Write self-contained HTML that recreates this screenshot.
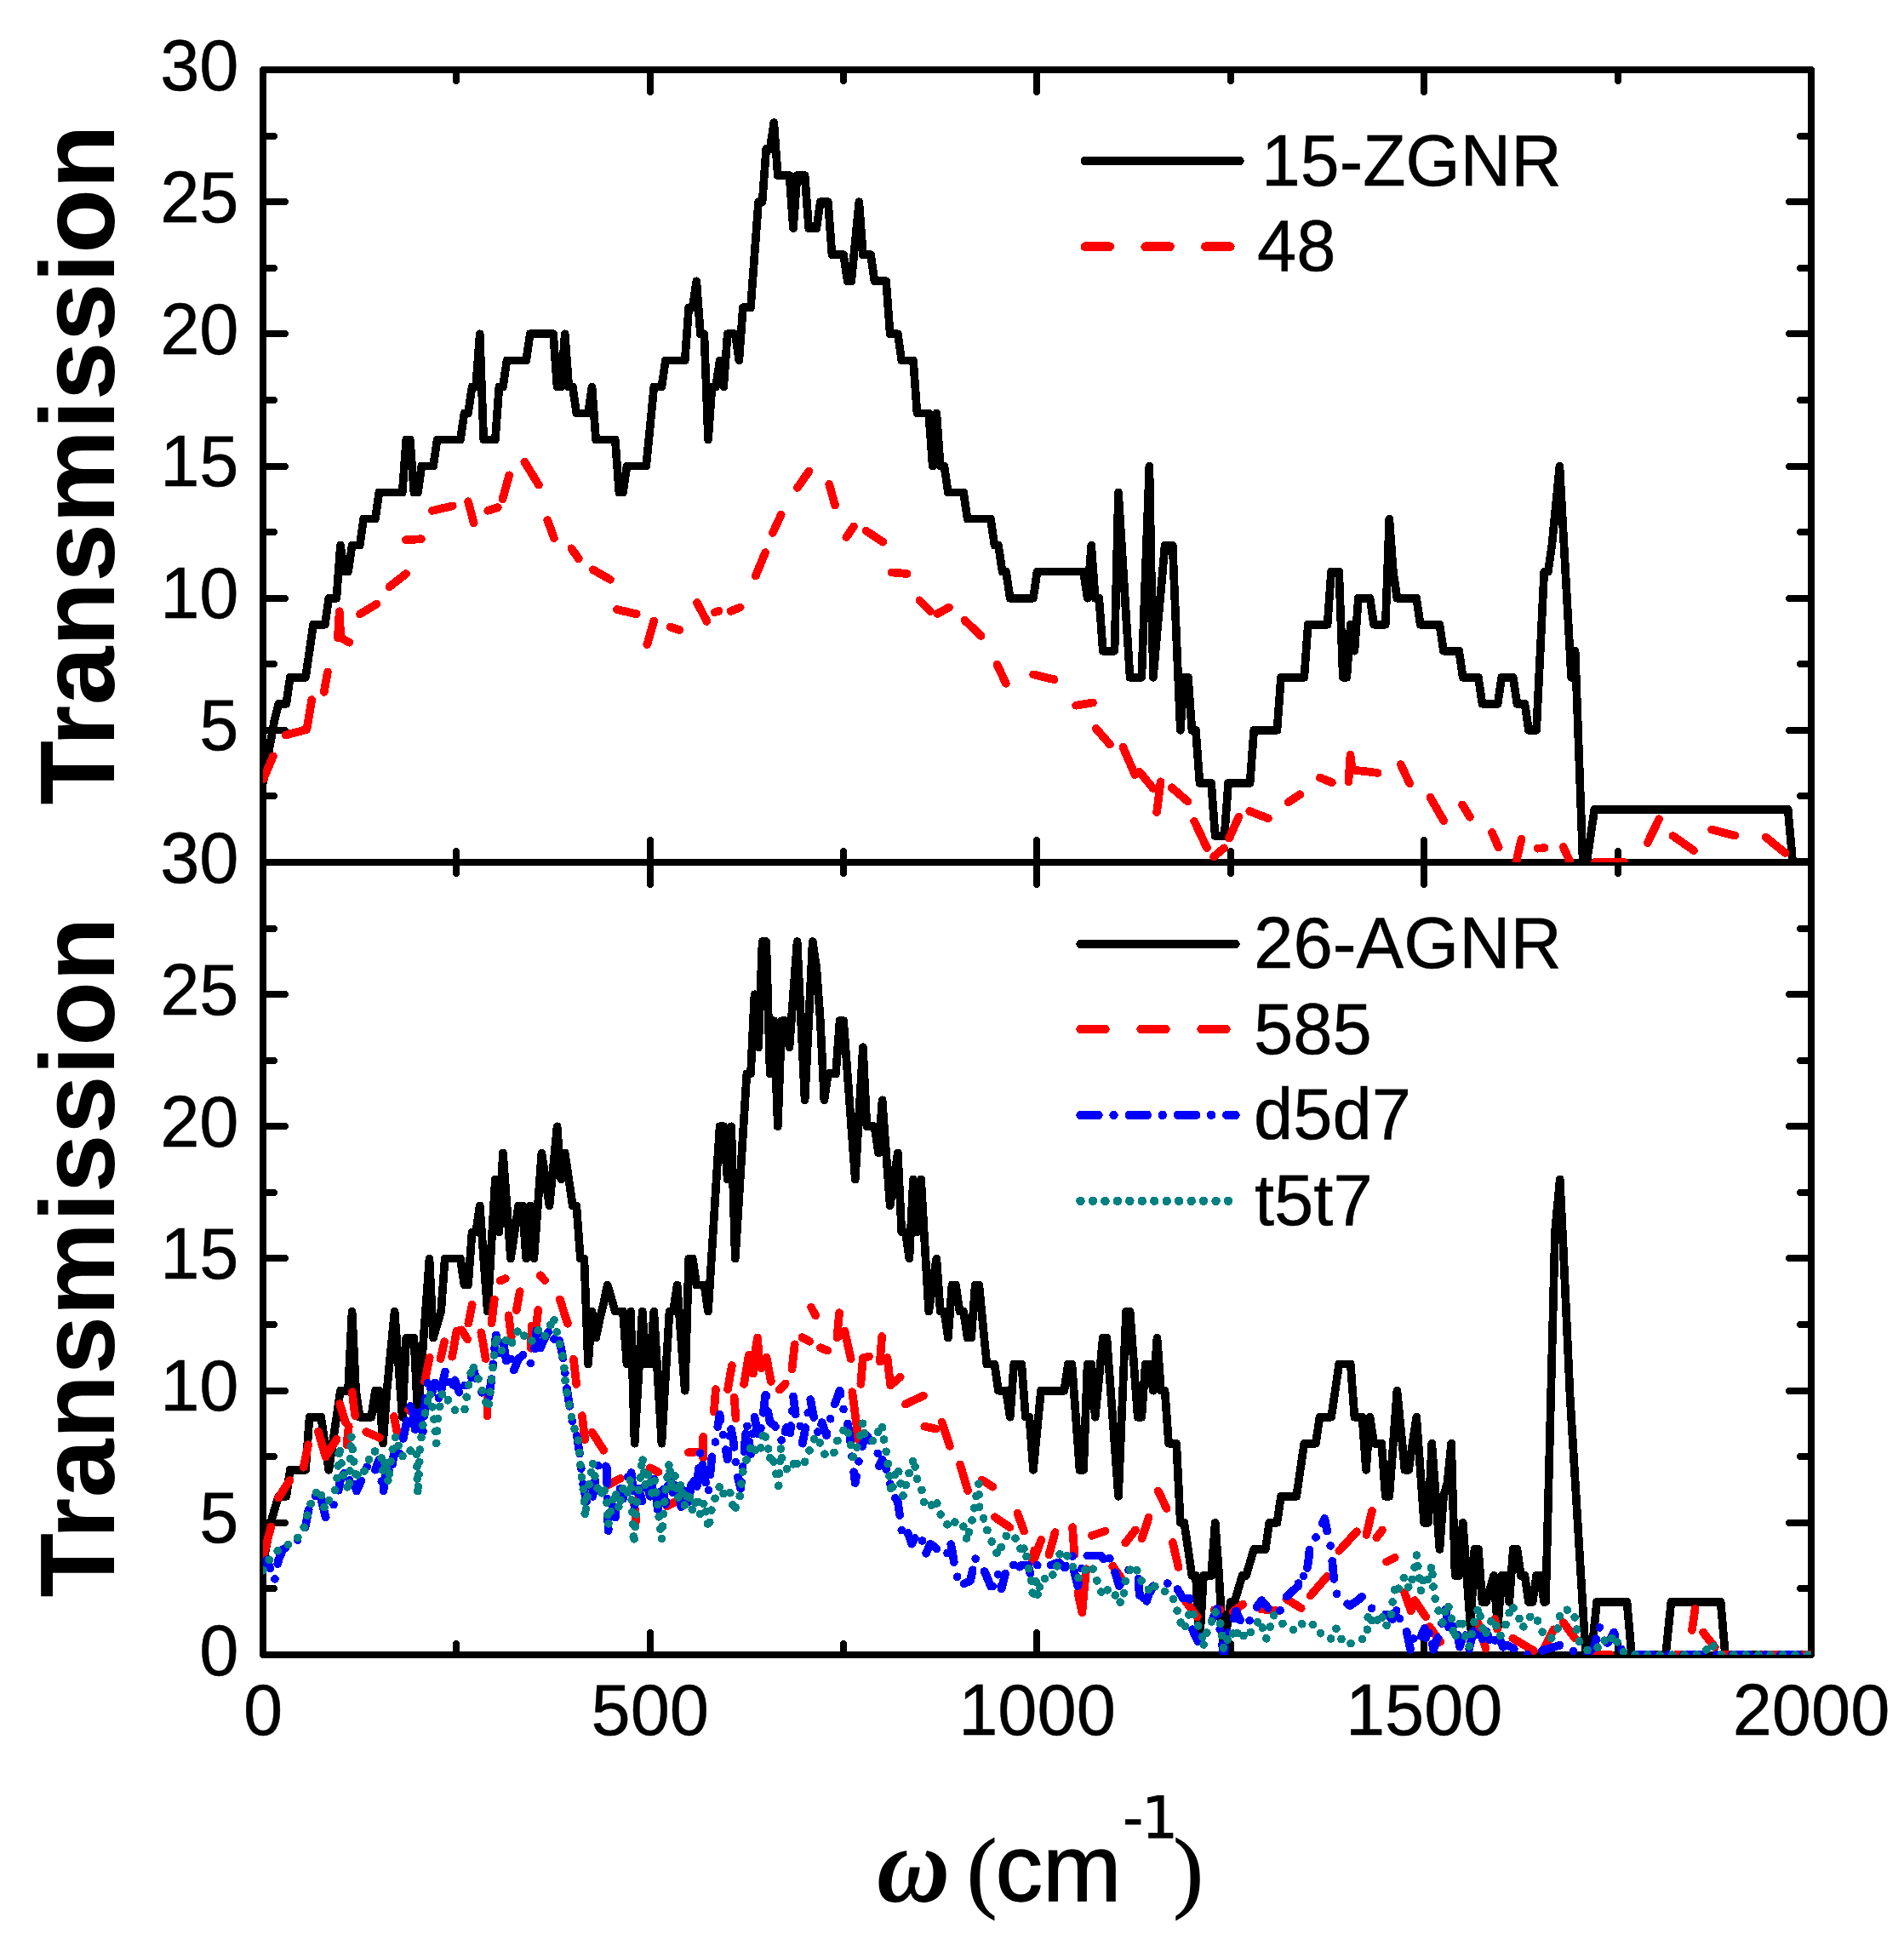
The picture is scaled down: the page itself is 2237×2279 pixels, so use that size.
<!DOCTYPE html>
<html><head><meta charset="utf-8"><title>Transmission</title>
<style>html,body{margin:0;padding:0;background:#fff}svg{display:block}text{font-family:"Liberation Sans",Arial,sans-serif;fill:#000}.tk{font-size:86px;stroke:#000;stroke-width:.5px}.lg{font-size:85px;stroke:#000;stroke-width:.5px}.yl{font-size:124px;font-weight:bold}</style></head><body>
<svg shape-rendering="crispEdges" width="2237" height="2279" viewBox="0 0 2237 2279">
<rect width="2237" height="2279" fill="#fff"/>
<defs><clipPath id="ct"><rect x="309.0" y="82.0" width="1819.0" height="931.0"/></clipPath><clipPath id="cb"><rect x="309.0" y="1013.0" width="1819.0" height="931.0"/></clipPath></defs>
<g id="axes">
<line x1="309.0" y1="935.0" x2="322.0" y2="935.0" stroke="#000" stroke-width="8.0" stroke-linecap="round"/>
<line x1="2128.0" y1="935.0" x2="2115.0" y2="935.0" stroke="#000" stroke-width="8.0" stroke-linecap="round"/>
<line x1="309.0" y1="858.0" x2="335.0" y2="858.0" stroke="#000" stroke-width="8.0" stroke-linecap="round"/>
<line x1="2128.0" y1="858.0" x2="2102.0" y2="858.0" stroke="#000" stroke-width="8.0" stroke-linecap="round"/>
<line x1="309.0" y1="780.0" x2="322.0" y2="780.0" stroke="#000" stroke-width="8.0" stroke-linecap="round"/>
<line x1="2128.0" y1="780.0" x2="2115.0" y2="780.0" stroke="#000" stroke-width="8.0" stroke-linecap="round"/>
<line x1="309.0" y1="703.0" x2="335.0" y2="703.0" stroke="#000" stroke-width="8.0" stroke-linecap="round"/>
<line x1="2128.0" y1="703.0" x2="2102.0" y2="703.0" stroke="#000" stroke-width="8.0" stroke-linecap="round"/>
<line x1="309.0" y1="625.0" x2="322.0" y2="625.0" stroke="#000" stroke-width="8.0" stroke-linecap="round"/>
<line x1="2128.0" y1="625.0" x2="2115.0" y2="625.0" stroke="#000" stroke-width="8.0" stroke-linecap="round"/>
<line x1="309.0" y1="548.0" x2="335.0" y2="548.0" stroke="#000" stroke-width="8.0" stroke-linecap="round"/>
<line x1="2128.0" y1="548.0" x2="2102.0" y2="548.0" stroke="#000" stroke-width="8.0" stroke-linecap="round"/>
<line x1="309.0" y1="470.0" x2="322.0" y2="470.0" stroke="#000" stroke-width="8.0" stroke-linecap="round"/>
<line x1="2128.0" y1="470.0" x2="2115.0" y2="470.0" stroke="#000" stroke-width="8.0" stroke-linecap="round"/>
<line x1="309.0" y1="392.0" x2="335.0" y2="392.0" stroke="#000" stroke-width="8.0" stroke-linecap="round"/>
<line x1="2128.0" y1="392.0" x2="2102.0" y2="392.0" stroke="#000" stroke-width="8.0" stroke-linecap="round"/>
<line x1="309.0" y1="315.0" x2="322.0" y2="315.0" stroke="#000" stroke-width="8.0" stroke-linecap="round"/>
<line x1="2128.0" y1="315.0" x2="2115.0" y2="315.0" stroke="#000" stroke-width="8.0" stroke-linecap="round"/>
<line x1="309.0" y1="237.0" x2="335.0" y2="237.0" stroke="#000" stroke-width="8.0" stroke-linecap="round"/>
<line x1="2128.0" y1="237.0" x2="2102.0" y2="237.0" stroke="#000" stroke-width="8.0" stroke-linecap="round"/>
<line x1="309.0" y1="160.0" x2="322.0" y2="160.0" stroke="#000" stroke-width="8.0" stroke-linecap="round"/>
<line x1="2128.0" y1="160.0" x2="2115.0" y2="160.0" stroke="#000" stroke-width="8.0" stroke-linecap="round"/>
<line x1="536.0" y1="82.0" x2="536.0" y2="95.0" stroke="#000" stroke-width="8.0" stroke-linecap="round"/>
<line x1="536.0" y1="1013.0" x2="536.0" y2="1000.0" stroke="#000" stroke-width="8.0" stroke-linecap="round"/>
<line x1="764.0" y1="82.0" x2="764.0" y2="108.0" stroke="#000" stroke-width="8.0" stroke-linecap="round"/>
<line x1="764.0" y1="1013.0" x2="764.0" y2="987.0" stroke="#000" stroke-width="8.0" stroke-linecap="round"/>
<line x1="991.0" y1="82.0" x2="991.0" y2="95.0" stroke="#000" stroke-width="8.0" stroke-linecap="round"/>
<line x1="991.0" y1="1013.0" x2="991.0" y2="1000.0" stroke="#000" stroke-width="8.0" stroke-linecap="round"/>
<line x1="1218.0" y1="82.0" x2="1218.0" y2="108.0" stroke="#000" stroke-width="8.0" stroke-linecap="round"/>
<line x1="1218.0" y1="1013.0" x2="1218.0" y2="987.0" stroke="#000" stroke-width="8.0" stroke-linecap="round"/>
<line x1="1446.0" y1="82.0" x2="1446.0" y2="95.0" stroke="#000" stroke-width="8.0" stroke-linecap="round"/>
<line x1="1446.0" y1="1013.0" x2="1446.0" y2="1000.0" stroke="#000" stroke-width="8.0" stroke-linecap="round"/>
<line x1="1673.0" y1="82.0" x2="1673.0" y2="108.0" stroke="#000" stroke-width="8.0" stroke-linecap="round"/>
<line x1="1673.0" y1="1013.0" x2="1673.0" y2="987.0" stroke="#000" stroke-width="8.0" stroke-linecap="round"/>
<line x1="1901.0" y1="82.0" x2="1901.0" y2="95.0" stroke="#000" stroke-width="8.0" stroke-linecap="round"/>
<line x1="1901.0" y1="1013.0" x2="1901.0" y2="1000.0" stroke="#000" stroke-width="8.0" stroke-linecap="round"/>
<line x1="309.0" y1="1866.0" x2="322.0" y2="1866.0" stroke="#000" stroke-width="8.0" stroke-linecap="round"/>
<line x1="2128.0" y1="1866.0" x2="2115.0" y2="1866.0" stroke="#000" stroke-width="8.0" stroke-linecap="round"/>
<line x1="309.0" y1="1789.0" x2="335.0" y2="1789.0" stroke="#000" stroke-width="8.0" stroke-linecap="round"/>
<line x1="2128.0" y1="1789.0" x2="2102.0" y2="1789.0" stroke="#000" stroke-width="8.0" stroke-linecap="round"/>
<line x1="309.0" y1="1711.0" x2="322.0" y2="1711.0" stroke="#000" stroke-width="8.0" stroke-linecap="round"/>
<line x1="2128.0" y1="1711.0" x2="2115.0" y2="1711.0" stroke="#000" stroke-width="8.0" stroke-linecap="round"/>
<line x1="309.0" y1="1634.0" x2="335.0" y2="1634.0" stroke="#000" stroke-width="8.0" stroke-linecap="round"/>
<line x1="2128.0" y1="1634.0" x2="2102.0" y2="1634.0" stroke="#000" stroke-width="8.0" stroke-linecap="round"/>
<line x1="309.0" y1="1556.0" x2="322.0" y2="1556.0" stroke="#000" stroke-width="8.0" stroke-linecap="round"/>
<line x1="2128.0" y1="1556.0" x2="2115.0" y2="1556.0" stroke="#000" stroke-width="8.0" stroke-linecap="round"/>
<line x1="309.0" y1="1478.0" x2="335.0" y2="1478.0" stroke="#000" stroke-width="8.0" stroke-linecap="round"/>
<line x1="2128.0" y1="1478.0" x2="2102.0" y2="1478.0" stroke="#000" stroke-width="8.0" stroke-linecap="round"/>
<line x1="309.0" y1="1401.0" x2="322.0" y2="1401.0" stroke="#000" stroke-width="8.0" stroke-linecap="round"/>
<line x1="2128.0" y1="1401.0" x2="2115.0" y2="1401.0" stroke="#000" stroke-width="8.0" stroke-linecap="round"/>
<line x1="309.0" y1="1323.0" x2="335.0" y2="1323.0" stroke="#000" stroke-width="8.0" stroke-linecap="round"/>
<line x1="2128.0" y1="1323.0" x2="2102.0" y2="1323.0" stroke="#000" stroke-width="8.0" stroke-linecap="round"/>
<line x1="309.0" y1="1246.0" x2="322.0" y2="1246.0" stroke="#000" stroke-width="8.0" stroke-linecap="round"/>
<line x1="2128.0" y1="1246.0" x2="2115.0" y2="1246.0" stroke="#000" stroke-width="8.0" stroke-linecap="round"/>
<line x1="309.0" y1="1168.0" x2="335.0" y2="1168.0" stroke="#000" stroke-width="8.0" stroke-linecap="round"/>
<line x1="2128.0" y1="1168.0" x2="2102.0" y2="1168.0" stroke="#000" stroke-width="8.0" stroke-linecap="round"/>
<line x1="309.0" y1="1091.0" x2="322.0" y2="1091.0" stroke="#000" stroke-width="8.0" stroke-linecap="round"/>
<line x1="2128.0" y1="1091.0" x2="2115.0" y2="1091.0" stroke="#000" stroke-width="8.0" stroke-linecap="round"/>
<line x1="536.0" y1="1013.0" x2="536.0" y2="1026.0" stroke="#000" stroke-width="8.0" stroke-linecap="round"/>
<line x1="536.0" y1="1944.0" x2="536.0" y2="1931.0" stroke="#000" stroke-width="8.0" stroke-linecap="round"/>
<line x1="764.0" y1="1013.0" x2="764.0" y2="1039.0" stroke="#000" stroke-width="8.0" stroke-linecap="round"/>
<line x1="764.0" y1="1944.0" x2="764.0" y2="1918.0" stroke="#000" stroke-width="8.0" stroke-linecap="round"/>
<line x1="991.0" y1="1013.0" x2="991.0" y2="1026.0" stroke="#000" stroke-width="8.0" stroke-linecap="round"/>
<line x1="991.0" y1="1944.0" x2="991.0" y2="1931.0" stroke="#000" stroke-width="8.0" stroke-linecap="round"/>
<line x1="1218.0" y1="1013.0" x2="1218.0" y2="1039.0" stroke="#000" stroke-width="8.0" stroke-linecap="round"/>
<line x1="1218.0" y1="1944.0" x2="1218.0" y2="1918.0" stroke="#000" stroke-width="8.0" stroke-linecap="round"/>
<line x1="1446.0" y1="1013.0" x2="1446.0" y2="1026.0" stroke="#000" stroke-width="8.0" stroke-linecap="round"/>
<line x1="1446.0" y1="1944.0" x2="1446.0" y2="1931.0" stroke="#000" stroke-width="8.0" stroke-linecap="round"/>
<line x1="1673.0" y1="1013.0" x2="1673.0" y2="1039.0" stroke="#000" stroke-width="8.0" stroke-linecap="round"/>
<line x1="1673.0" y1="1944.0" x2="1673.0" y2="1918.0" stroke="#000" stroke-width="8.0" stroke-linecap="round"/>
<line x1="1901.0" y1="1013.0" x2="1901.0" y2="1026.0" stroke="#000" stroke-width="8.0" stroke-linecap="round"/>
<line x1="1901.0" y1="1944.0" x2="1901.0" y2="1931.0" stroke="#000" stroke-width="8.0" stroke-linecap="round"/>
<rect x="309.0" y="82.0" width="1819.0" height="1862.0" fill="none" stroke="#000" stroke-width="8.0" stroke-linejoin="round"/>
<line x1="309.0" y1="1013.0" x2="2128.0" y2="1013.0" stroke="#000" stroke-width="8.0" stroke-linecap="butt"/>
</g>
<g fill="none" stroke-linejoin="round" stroke-linecap="round" stroke-width="9.7" clip-path="url(#ct)">
<path id="tb" stroke="#000" d="M309.0 919.9 L313.5 895.1 L318.1 870.2 L322.6 845.4 L327.2 826.8 L336.3 826.8 L340.8 795.8 L359.0 795.8 L363.6 764.7 L368.1 733.7 L381.8 733.7 L386.3 702.7 L395.4 702.7 L399.9 640.6 L404.5 671.6 L409.0 671.6 L413.6 640.6 L422.7 640.6 L427.2 609.6 L440.9 609.6 L445.4 578.5 L472.7 578.5 L477.3 516.5 L481.8 516.5 L486.4 578.5 L490.9 578.5 L495.4 547.5 L509.1 547.5 L513.6 516.5 L540.9 516.5 L545.5 485.4 L550.0 485.4 L554.6 454.4 L559.1 454.4 L563.7 392.3 L568.2 516.5 L581.9 516.5 L586.4 454.4 L590.9 454.4 L595.5 423.4 L618.2 423.4 L622.8 392.3 L650.1 392.3 L654.6 454.4 L659.2 454.4 L663.7 392.3 L668.3 454.4 L672.8 454.4 L677.3 485.4 L691.0 485.4 L695.5 454.4 L700.1 516.5 L722.8 516.5 L727.4 578.5 L731.9 578.5 L736.5 547.5 L759.2 547.5 L763.8 501.0 L768.3 454.4 L777.4 454.4 L781.9 423.4 L804.7 423.4 L809.2 361.3 L813.8 361.3 L818.3 330.3 L822.9 392.3 L827.4 392.3 L832.0 516.5 L836.5 454.4 L841.1 454.4 L845.6 423.4 L850.2 454.4 L854.7 392.3 L863.8 392.3 L868.3 423.4 L872.9 361.3 L882.0 361.3 L886.5 299.2 L891.1 237.2 L895.6 237.2 L900.2 175.1 L904.7 175.1 L909.3 144.1 L913.8 206.1 L927.5 206.1 L932.0 268.2 L936.6 206.1 L945.6 206.1 L950.2 268.2 L959.3 268.2 L963.8 237.2 L972.9 237.2 L977.5 299.2 L991.1 299.2 L995.7 330.3 L1000.2 330.3 L1004.8 283.7 L1009.3 237.2 L1013.9 299.2 L1023.0 299.2 L1027.5 330.3 L1041.1 330.3 L1045.7 392.3 L1054.8 392.3 L1059.3 423.4 L1073.0 423.4 L1077.5 485.4 L1091.2 485.4 L1095.7 547.5 L1100.3 485.4 L1104.8 547.5 L1109.4 547.5 L1113.9 578.5 L1132.1 578.5 L1136.6 609.6 L1163.9 609.6 L1168.5 640.6 L1173.0 640.6 L1177.6 671.6 L1182.1 671.6 L1186.7 702.7 L1214.0 702.7 L1218.5 671.6 L1273.1 671.6 L1277.6 702.7 L1282.2 640.6 L1286.7 702.7 L1291.3 702.7 L1295.8 764.7 L1309.5 764.7 L1314.0 578.5 L1318.5 649.9 L1323.1 724.4 L1327.6 795.8 L1341.3 795.8 L1345.8 671.6 L1350.4 547.5 L1354.9 795.8 L1359.5 743.0 L1364.0 693.4 L1368.6 640.6 L1377.7 640.6 L1382.2 749.2 L1386.8 857.8 L1391.3 795.8 L1395.9 795.8 L1400.4 857.8 L1404.9 857.8 L1409.5 919.9 L1423.1 919.9 L1427.7 982.0 L1438.6 982.0 L1443.1 919.9 L1468.6 919.9 L1473.2 857.8 L1500.4 857.8 L1505.0 795.8 L1532.3 795.8 L1536.8 733.7 L1559.6 733.7 L1564.1 671.6 L1573.2 671.6 L1577.8 795.8 L1582.3 795.8 L1586.8 733.7 L1591.4 764.7 L1595.9 702.7 L1609.6 702.7 L1614.1 733.7 L1627.8 733.7 L1632.3 609.6 L1636.9 671.6 L1641.4 702.7 L1664.2 702.7 L1668.7 733.7 L1691.4 733.7 L1696.0 764.7 L1714.2 764.7 L1718.7 795.8 L1736.9 795.8 L1741.5 826.8 L1759.7 826.8 L1764.2 795.8 L1777.8 795.8 L1782.4 826.8 L1791.5 826.8 L1796.0 857.8 L1805.1 857.8 L1809.7 764.7 L1814.2 671.6 L1818.8 671.6 L1823.3 640.6 L1827.9 594.0 L1832.4 547.5 L1837.0 631.3 L1841.5 712.0 L1846.1 795.8 L1850.6 764.7 L1855.2 888.9 L1859.7 1013.0 L1864.2 1013.0 L1868.8 982.0 L1873.3 950.9 L2100.7 950.9 L2100.7 950.9 L2106.2 1013.0 L2128.0 1013.0"/>
<path id="tr" stroke="#f00" d="M309.6 914.8 L320.9 888.4 M335.5 863.6 L360.5 856.9 L366.3 822.1 M380.7 812.9 L384.9 789.5 M396.9 749.3 L398.7 718.2 L400.4 749.2 L410.3 754.7 M422.9 721.4 L442.3 709.7 M457.5 689.3 L477.0 674.1 M476.9 634.3 L494.9 633.2 M507.8 599.9 L531.7 594.4 M550.0 589.3 L556.7 614.3 M573.3 599.8 L584.7 596.1 M590.4 586.4 L598.3 558.3 M616.3 542.6 L632.9 569.5 M643.3 611.0 L650.9 632.1 M671.4 644.3 L679.8 656.4 M696.8 669.3 L717.0 680.8 M724.9 716.0 L747.7 721.3 M760.3 757.1 L768.2 729.6 M787.5 736.6 L798.3 740.1 M819.0 708.0 L830.4 729.9 M839.8 719.3 L844.6 717.7 M858.6 717.9 L869.7 713.5 M887.8 676.5 L899.1 649.1 M907.9 625.9 L917.7 604.7 M936.9 573.0 L950.6 553.4 M974.2 568.8 L981.1 593.5 M994.3 631.0 L1003.0 618.6 M1017.5 623.7 L1037.5 636.7 M1047.7 672.4 L1065.5 674.0 M1080.4 705.3 L1092.9 718.0 M1101.3 720.9 L1114.9 713.6 M1133.5 728.8 L1152.7 746.9 M1171.4 780.4 L1181.8 802.8 M1214.0 792.4 L1238.5 798.2 M1264.2 828.7 L1283.9 825.5 M1287.7 855.9 L1303.9 874.4 M1319.4 877.8 L1333.4 910.1 M1338.6 906.5 L1354.9 926.2 M1359.1 954.1 L1363.6 918.3 M1376.6 925.2 L1395.6 941.6 M1403.2 964.7 L1418.0 996.1 M1426.1 1006.4 L1438.0 996.3 M1444.2 984.6 L1455.5 959.4 M1468.2 953.0 L1489.9 961.3 M1513.5 942.6 L1527.4 933.2 M1550.9 913.6 L1564.9 919.3 M1584.4 918.4 L1586.5 886.7 L1588.7 904.4 L1618.5 907.9 M1645.7 898.0 L1656.2 920.4 M1680.4 936.7 L1696.2 964.2 M1718.2 945.4 L1727.0 959.9 M1753.0 978.1 L1760.7 995.5 M1781.6 1011.5 L1787.5 985.6 M1806.6 996.7 L1814.5 996.1 M1836.7 994.8 L1844.3 1011.6 M1873.9 1013.0 L1908.2 1013.0 M1935.7 990.2 L1949.1 962.2 M1965.5 981.9 L1990.0 999.1 M2011.2 974.6 L2038.3 981.6 M2074.6 983.5 L2097.5 1002.1"/>
</g>
<g fill="none" stroke-linejoin="round" stroke-linecap="round" stroke-width="9.7" clip-path="url(#cb)">
<path id="bb" stroke="#000" d="M309.0 1835.4 L313.5 1813.7 L318.1 1788.8 L322.6 1773.3 L327.2 1757.8 L336.3 1757.8 L340.8 1726.8 L359.0 1726.8 L363.6 1664.7 L377.2 1664.7 L381.8 1695.7 L386.3 1726.8 L390.9 1695.7 L395.4 1664.7 L399.9 1633.7 L409.0 1633.7 L413.6 1540.6 L418.1 1633.7 L422.7 1664.7 L436.3 1664.7 L440.9 1633.7 L445.4 1633.7 L450.0 1695.7 L454.5 1633.7 L459.1 1587.1 L463.6 1540.6 L468.2 1602.6 L472.7 1664.7 L477.3 1571.6 L486.4 1571.6 L490.9 1664.7 L495.4 1602.6 L500.0 1540.6 L504.5 1478.5 L509.1 1571.6 L513.6 1556.1 L518.2 1540.6 L522.7 1478.5 L540.9 1478.5 L545.5 1509.5 L550.0 1509.5 L554.6 1447.5 L559.1 1447.5 L563.7 1416.4 L568.2 1478.5 L572.8 1540.6 L577.3 1463.0 L581.9 1385.4 L586.4 1447.5 L590.9 1354.4 L595.5 1416.4 L600.0 1478.5 L604.6 1447.5 L609.1 1416.4 L613.7 1416.4 L618.2 1478.5 L622.8 1416.4 L627.3 1478.5 L631.9 1416.4 L636.4 1354.4 L641.0 1385.4 L645.5 1416.4 L650.1 1369.9 L654.6 1323.3 L659.2 1385.4 L663.7 1354.4 L668.3 1385.4 L672.8 1416.4 L677.3 1416.4 L681.9 1478.5 L686.4 1478.5 L691.0 1602.6 L695.5 1540.6 L700.1 1571.6 L704.6 1549.9 L709.2 1531.3 L713.7 1509.5 L718.3 1525.0 L722.8 1540.6 L731.9 1540.6 L736.5 1602.6 L741.0 1540.6 L745.6 1695.7 L750.1 1618.2 L754.7 1540.6 L759.2 1602.6 L763.8 1602.6 L768.3 1540.6 L772.8 1618.2 L777.4 1695.7 L781.9 1618.2 L786.5 1540.6 L791.0 1540.6 L795.6 1509.5 L800.1 1571.6 L804.7 1633.7 L809.2 1478.5 L813.8 1478.5 L818.3 1509.5 L827.4 1509.5 L832.0 1540.6 L836.5 1469.2 L841.1 1394.7 L845.6 1323.3 L850.2 1323.3 L854.7 1385.4 L859.2 1323.3 L863.8 1478.5 L868.3 1407.1 L872.9 1332.6 L877.4 1261.3 L882.0 1261.3 L886.5 1168.2 L891.1 1230.2 L895.6 1106.1 L900.2 1106.1 L904.7 1261.3 L909.3 1199.2 L913.8 1323.3 L918.4 1199.2 L922.9 1199.2 L927.5 1230.2 L932.0 1168.2 L936.6 1106.1 L941.1 1199.2 L945.6 1292.3 L950.2 1199.2 L954.7 1106.1 L959.3 1137.1 L963.8 1199.2 L968.4 1292.3 L972.9 1261.3 L982.0 1261.3 L986.6 1199.2 L991.1 1199.2 L995.7 1261.3 L1000.2 1323.3 L1004.8 1385.4 L1009.3 1307.8 L1013.9 1230.2 L1018.4 1323.3 L1027.5 1323.3 L1032.1 1354.4 L1036.6 1292.3 L1041.1 1354.4 L1045.7 1416.4 L1050.2 1385.4 L1054.8 1354.4 L1059.3 1447.5 L1063.9 1447.5 L1068.4 1478.5 L1073.0 1385.4 L1077.5 1447.5 L1082.1 1385.4 L1086.6 1463.0 L1091.2 1540.6 L1095.7 1509.5 L1100.3 1478.5 L1104.8 1540.6 L1109.4 1540.6 L1113.9 1571.6 L1118.5 1509.5 L1123.0 1509.5 L1127.5 1540.6 L1132.1 1540.6 L1136.6 1571.6 L1141.2 1571.6 L1145.7 1509.5 L1150.3 1509.5 L1154.8 1556.1 L1159.4 1602.6 L1168.5 1602.6 L1173.0 1633.7 L1182.1 1633.7 L1186.7 1664.7 L1191.2 1602.6 L1200.3 1602.6 L1204.9 1664.7 L1209.4 1664.7 L1214.0 1726.8 L1218.5 1680.2 L1223.0 1633.7 L1250.3 1633.7 L1254.9 1602.6 L1259.4 1602.6 L1264.0 1664.7 L1268.5 1726.8 L1273.1 1726.8 L1277.6 1602.6 L1282.2 1602.6 L1286.7 1664.7 L1291.3 1618.2 L1295.8 1571.6 L1300.4 1571.6 L1304.9 1633.7 L1309.5 1695.7 L1314.0 1757.8 L1318.5 1649.2 L1323.1 1540.6 L1327.6 1540.6 L1332.2 1602.6 L1336.7 1664.7 L1341.3 1664.7 L1345.8 1602.6 L1350.4 1602.6 L1354.9 1633.7 L1359.5 1571.6 L1364.0 1633.7 L1368.6 1633.7 L1373.1 1695.7 L1382.2 1695.7 L1386.8 1788.8 L1391.3 1788.8 L1395.9 1819.9 L1400.4 1850.9 L1404.9 1850.9 L1409.5 1928.5 L1414.0 1850.9 L1423.1 1850.9 L1427.7 1788.8 L1432.2 1850.9 L1436.8 1928.5 L1441.3 1913.0 L1445.9 1881.9 L1450.4 1881.9 L1455.0 1866.4 L1459.5 1850.9 L1464.1 1850.9 L1468.6 1835.4 L1473.2 1819.9 L1486.8 1819.9 L1491.3 1788.8 L1500.4 1788.8 L1505.0 1757.8 L1523.2 1757.8 L1527.7 1726.8 L1532.3 1695.7 L1545.9 1695.7 L1550.5 1664.7 L1564.1 1664.7 L1568.7 1633.7 L1573.2 1602.6 L1586.8 1602.6 L1591.4 1664.7 L1600.5 1664.7 L1605.0 1726.8 L1609.6 1664.7 L1614.1 1695.7 L1623.2 1695.7 L1627.8 1757.8 L1632.3 1757.8 L1636.9 1695.7 L1641.4 1633.7 L1646.0 1680.2 L1650.5 1726.8 L1655.1 1726.8 L1659.6 1695.7 L1664.2 1664.7 L1668.7 1726.8 L1673.2 1788.8 L1677.8 1788.8 L1682.3 1695.7 L1686.9 1757.8 L1691.4 1819.9 L1696.0 1757.8 L1700.5 1742.3 L1705.1 1695.7 L1709.6 1850.9 L1714.2 1850.9 L1718.7 1788.8 L1723.3 1850.9 L1727.8 1913.0 L1732.4 1819.9 L1736.9 1819.9 L1741.5 1881.9 L1746.0 1881.9 L1750.6 1866.4 L1755.1 1850.9 L1759.7 1913.0 L1764.2 1850.9 L1768.7 1850.9 L1773.3 1881.9 L1777.8 1819.9 L1782.4 1819.9 L1786.9 1850.9 L1791.5 1850.9 L1796.0 1881.9 L1800.6 1881.9 L1805.1 1850.9 L1809.7 1850.9 L1814.2 1881.9 L1816.0 1881.9 L1816.0 1881.9 L1827.0 1447.5 L1832.7 1385.4 L1837.0 1472.3 L1844.6 1639.9 L1862.2 1930.0 L1863.3 1944.0 L1869.7 1944.0 L1876.1 1881.9 L1911.5 1881.9 L1917.0 1944.0 L1957.0 1944.0 L1963.4 1881.9 L2021.6 1881.9 L2027.0 1944.0 L2128.0 1944.0"/>
<path id="br" stroke="#f00" d="M309.4 1827.7 L318.4 1793.4 M327.1 1759.6 L340.5 1738.9 M356.6 1723.7 L362.2 1697.2 M374.0 1681.7 L382.5 1711.2 L395.5 1690.8 M399.2 1649.1 L405.9 1671.0 M413.8 1635.2 L417.1 1663.2 M409.8 1675.5 L407.4 1697.3 M430.2 1682.1 L445.9 1688.9 M462.8 1664.0 L467.0 1685.0 M480.0 1656.2 L491.3 1663.9 M499.0 1622.9 L504.7 1594.8 M517.6 1596.2 L522.1 1576.2 M531.2 1593.7 L536.4 1563.8 L542.5 1562.3 L549.2 1573.4 M550.3 1554.6 L554.7 1532.7 M565.3 1565.3 L570.7 1596.2 M577.5 1554.6 L580.8 1526.5 M587.6 1504.6 L593.7 1502.0 M597.5 1545.2 L600.8 1570.1 M606.7 1539.1 L610.7 1517.2 M623.8 1583.8 L624.9 1557.6 M630.2 1556.1 L632.3 1539.0 M634.7 1498.2 L640.0 1504.1 M657.8 1526.5 L666.9 1554.7 M673.9 1596.7 L677.2 1626.0 M572.5 1641.4 L572.5 1663.2 M683.9 1663.1 L687.2 1691.1 M695.8 1682.7 L709.3 1703.8 M713.8 1744.7 L728.8 1736.8 M744.8 1762.4 L747.2 1787.3 M763.8 1724.3 L773.3 1729.2 M783.3 1769.5 L798.8 1761.6 M808.9 1706.2 L823.2 1705.2 M826.2 1712.9 L826.2 1687.9 M838.9 1658.5 L840.9 1632.1 M855.0 1632.2 L859.9 1604.1 M862.6 1641.4 L864.6 1666.3 M874.1 1626.0 L879.9 1591.7 M884.9 1613.6 L887.4 1587.1 L890.0 1571.6 L892.0 1596.4 L894.4 1607.4 M900.5 1594.8 L905.9 1622.9 M915.8 1632.6 L922.8 1625.4 M930.4 1608.6 L933.7 1579.3 M942.4 1571.1 L951.2 1575.8 M953.1 1535.7 L958.1 1545.4 M963.9 1583.3 L972.4 1586.6 M986.1 1542.1 L983.4 1571.6 L992.5 1563.8 L999.7 1596.2 M1001.3 1635.2 L1008.6 1691.1 M1011.3 1626.0 L1013.9 1595.2 L1021.0 1593.6 M1036.1 1570.0 L1033.9 1599.5 L1042.5 1595.2 L1046.2 1627.5 L1057.7 1617.6 M1063.9 1649.5 L1084.9 1639.6 M1086.3 1675.6 L1099.7 1678.6 M1106.7 1670.5 L1115.8 1698.7 M1128.0 1720.4 L1137.1 1751.1 M1153.7 1738.5 L1166.3 1746.7 M1168.8 1782.2 L1186.3 1794.2 M1195.4 1777.8 L1203.1 1798.6 M1212.5 1833.9 L1215.4 1821.3 M1215.4 1830.9 L1223.3 1808.9 M1232.5 1826.2 L1239.6 1800.2 M1260.1 1794.1 L1262.4 1826.1 M1266.5 1871.0 L1271.3 1894.3 L1276.1 1843.1 M1282.7 1803.9 L1298.6 1798.6 M1307.2 1839.7 L1316.7 1852.8 M1322.2 1812.5 L1334.0 1797.5 M1341.7 1807.3 L1349.6 1782.8 M1360.7 1751.4 L1370.6 1772.0 M1377.8 1812.0 L1384.6 1841.1 M1393.1 1881.3 L1406.8 1899.4 M1426.5 1891.2 L1433.5 1891.2 M1448.7 1893.4 L1460.1 1884.7 M1481.5 1890.2 L1500.8 1892.3 M1511.3 1878.4 L1528.7 1889.2 M1539.6 1874.6 L1559.0 1852.0 M1573.3 1821.9 L1594.0 1799.2 M1605.4 1802.9 L1612.0 1774.8 M1617.3 1806.3 L1624.1 1797.5 M1629.1 1834.7 L1638.7 1829.9 M1650.1 1870.9 L1657.8 1892.5 L1662.3 1880.1 L1675.1 1899.3 M1679.6 1911.1 L1692.4 1928.8 M1736.4 1906.3 L1745.6 1936.4 M1756.4 1902.0 L1759.3 1913.7 M1777.3 1924.6 L1802.0 1939.2 M1813.1 1938.6 L1825.4 1914.3 M1836.9 1906.1 L1850.1 1924.2"/>
<path id="br0" stroke="#f00" stroke-dasharray="18.5 29.5" d="M1873.3 1944.0 L1982.5 1944.0"/>
<path id="brx" stroke="#f00" d="M1987.9 1915.1 L1991.5 1890.0 M2001.0 1917.6 L2014.8 1935.0"/>
<path id="brt" stroke="#f00" stroke-dasharray="18.5 29.5" d="M2023.4 1944.0 L2128.0 1944.0"/>
<path id="bl" stroke="#00f" stroke-dasharray="21.3 17.7 0.01 18" d="M309.0 1841.6 L313.5 1832.3 L318.1 1844.7 L322.6 1857.1 L327.2 1832.3 L332.6 1819.9 L345.4 1813.7 L357.2 1801.2 L362.7 1773.3 L367.2 1762.5 L375.0 1751.6 L382.7 1782.6 L390.9 1770.2 L396.3 1757.8 L399.9 1739.2 L404.5 1729.9 L409.0 1742.3 L413.6 1733.0 L419.0 1751.6 L424.5 1739.2 L433.6 1717.5 L440.9 1726.8 L445.4 1714.4 L450.0 1754.7 L454.5 1720.6 L459.1 1733.0 L463.6 1701.9 L468.2 1714.4 L474.5 1686.4 L479.1 1664.7 L483.6 1646.1 L488.2 1683.3 L492.7 1655.4 L496.4 1689.5 L500.0 1639.9 L503.6 1618.2 L507.3 1636.8 L510.9 1624.4 L516.4 1646.1 L520.0 1624.4 L523.6 1608.8 L529.1 1633.7 L534.6 1621.3 L540.9 1639.9 L547.3 1624.4 L551.8 1627.5 L556.4 1608.8 L561.8 1627.5 L568.2 1639.9 L573.7 1646.1 L577.3 1621.3 L582.8 1568.5 L586.4 1590.2 L590.9 1574.7 L595.5 1602.6 L600.0 1593.3 L602.8 1611.9 L609.1 1596.4 L616.4 1590.2 L622.8 1602.6 L627.3 1593.3 L631.0 1556.1 L634.6 1584.0 L640.1 1571.6 L645.5 1562.3 L650.1 1574.7 L654.6 1565.4 L659.2 1584.0 L662.8 1602.6 L665.5 1627.5 L668.3 1646.1 L671.0 1664.7 L674.6 1677.1 L678.3 1689.5 L681.0 1708.1 L683.7 1733.0 L686.4 1751.6 L689.2 1764.0 L692.8 1742.3 L696.4 1757.8 L700.1 1733.0 L704.6 1714.4 L712.8 1723.7 L714.6 1798.1 L718.3 1764.0 L722.8 1782.6 L727.4 1745.4 L731.9 1760.9 L736.5 1739.2 L741.0 1723.7 L745.6 1770.2 L750.1 1748.5 L754.7 1764.0 L759.2 1739.2 L763.8 1757.8 L768.3 1733.0 L772.8 1773.3 L777.4 1742.3 L781.9 1767.1 L786.5 1729.9 L791.0 1757.8 L795.6 1739.2 L800.1 1770.2 L804.7 1748.5 L809.2 1764.0 L813.8 1733.0 L818.3 1751.6 L822.9 1705.0 L827.4 1733.0 L832.0 1754.7 L836.5 1711.2 L840.1 1695.7 L845.6 1661.6 L850.2 1689.5 L854.7 1714.4 L858.3 1674.0 L862.0 1695.7 L865.6 1729.9 L870.2 1748.5 L873.8 1711.2 L877.4 1670.9 L882.0 1708.1 L886.5 1664.7 L891.1 1689.5 L895.6 1670.9 L900.2 1630.6 L901.1 1652.3 L904.7 1670.9 L909.3 1674.0 L914.7 1680.2 L919.3 1695.7 L923.8 1677.1 L928.4 1683.3 L932.0 1639.9 L934.7 1661.6 L938.4 1661.6 L942.9 1695.7 L947.5 1670.9 L952.0 1643.0 L956.6 1667.8 L962.0 1686.4 L965.7 1670.9 L971.1 1686.4 L977.5 1658.5 L982.0 1646.1 L986.6 1633.7 L991.1 1655.4 L994.8 1664.7 L998.4 1686.4 L1002.0 1720.6 L1004.8 1742.3 L1009.3 1714.4 L1013.9 1695.7 L1018.4 1686.4 L1024.8 1695.7 L1031.1 1705.0 L1032.1 1723.7 L1036.6 1714.4 L1043.9 1733.0 L1048.4 1754.7 L1054.8 1764.0 L1057.5 1782.6 L1060.2 1804.3 L1065.7 1798.1 L1071.2 1813.7 L1077.5 1801.2 L1082.1 1804.3 L1087.5 1826.1 L1093.0 1813.7 L1097.5 1816.8 L1104.8 1823.0 L1112.1 1827.6 L1116.6 1810.6 L1120.0 1829.2 L1122.1 1844.7 L1123.9 1847.8 L1126.3 1863.3 L1133.0 1860.2 L1140.0 1857.1 L1142.1 1847.8 L1144.8 1829.2 L1151.2 1838.5 L1157.6 1847.8 L1163.9 1863.3 L1170.3 1863.3 L1173.0 1847.8 L1176.7 1866.4 L1182.1 1844.7 L1189.4 1844.7 L1192.1 1832.3 L1196.7 1841.6 L1200.3 1838.5 L1207.6 1838.5 L1211.2 1850.9 L1214.9 1848.7 L1218.5 1838.5 L1224.9 1842.5 L1234.9 1838.5 L1244.0 1835.4 L1251.2 1841.6 L1260.0 1826.1 L1261.2 1842.5 L1266.2 1863.3 L1270.3 1844.7 L1274.9 1827.6 L1284.0 1827.6 L1293.6 1827.6 L1297.6 1832.3 L1302.2 1823.9 L1304.9 1835.4 L1307.6 1838.5 L1314.9 1863.3 L1320.4 1850.9 L1327.6 1842.5 L1337.6 1854.9 L1338.6 1873.9 L1342.2 1866.4 L1344.9 1888.1 L1350.0 1872.6 L1354.9 1863.3 L1364.0 1866.4 L1371.3 1860.2 L1377.5 1857.1 L1389.9 1877.6 L1397.5 1877.6 L1400.0 1894.3 L1400.4 1913.0 L1407.5 1928.5 L1413.1 1913.0 L1418.6 1919.2 L1424.0 1903.7 L1430.0 1890.0 L1433.1 1913.0 L1435.0 1925.4 L1437.7 1944.0 L1442.2 1919.2 L1447.7 1909.9 L1452.2 1892.5 L1458.6 1906.8 L1465.0 1909.9 L1475.0 1890.0 L1482.3 1880.1 L1495.0 1895.0 L1503.7 1892.5 L1511.4 1875.7 L1525.0 1863.3 L1527.7 1847.8 L1535.0 1854.9 L1535.9 1842.5 L1537.7 1830.1 L1538.6 1818.9 L1542.3 1816.8 L1546.3 1805.0 L1556.3 1783.9 L1560.0 1802.5 L1563.7 1817.7 L1566.3 1844.7 L1567.5 1858.7 L1571.4 1875.7 L1585.9 1886.3 L1595.0 1880.1 L1600.0 1875.7 L1612.3 1890.0 L1625.0 1895.0 L1630.5 1897.5 L1636.0 1902.4 L1642.3 1888.1 L1645.1 1904.9 L1652.3 1915.1 L1657.5 1940.0 L1661.4 1922.3 L1666.9 1928.5 L1673.7 1913.0 L1676.0 1930.0 L1679.6 1916.1 L1684.2 1937.8 L1688.7 1925.4 L1693.3 1909.9 L1698.5 1890.0 L1703.3 1919.2 L1709.6 1906.8 L1715.1 1934.7 L1720.5 1916.1 L1726.0 1937.8 L1732.4 1909.9 L1738.7 1931.6 L1746.0 1916.1 L1753.3 1934.7 L1759.7 1919.2 L1766.0 1934.7 L1770.6 1932.5 L1793.3 1944.0 L1805.1 1940.9 L1816.0 1937.8 L1833.3 1932.5 L1840.6 1934.7 L1850.6 1940.9 L1864.2 1944.0 L1873.3 1934.7 L1878.4 1909.9 L1888.5 1930.0 L1892.4 1925.4 L1896.1 1917.6 L1902.4 1934.7 L1909.7 1942.4 L1918.8 1944.0 L2128.0 1944.0"/>
<path id="bt" stroke="#008080" stroke-dasharray="0.01 14.45" d="M309.0 1844.7 L316.3 1832.3 L324.5 1823.0 L332.6 1816.8 L345.4 1812.1 L356.3 1798.1 L361.8 1776.4 L367.2 1760.9 L374.5 1748.5 L378.1 1757.8 L381.8 1773.3 L385.4 1764.0 L390.9 1757.8 L395.4 1745.4 L398.8 1698.8 L401.8 1726.8 L405.4 1739.2 L410.0 1751.6 L412.7 1686.4 L415.4 1714.4 L418.1 1739.2 L421.8 1726.8 L427.2 1729.9 L432.7 1717.5 L436.3 1705.0 L447.2 1705.0 L450.0 1729.9 L452.7 1714.4 L456.3 1742.3 L460.0 1708.1 L465.0 1686.4 L469.1 1701.9 L472.7 1711.2 L478.2 1701.9 L483.6 1705.0 L489.1 1701.9 L490.9 1756.2 L493.6 1698.8 L497.3 1670.9 L500.9 1652.3 L505.0 1635.2 L509.1 1658.5 L512.7 1695.7 L514.5 1664.7 L517.3 1649.2 L520.0 1635.2 L527.3 1646.1 L532.7 1655.4 L539.1 1658.5 L545.5 1658.5 L550.0 1630.6 L555.0 1602.6 L559.1 1615.0 L562.8 1621.3 L568.2 1639.9 L573.7 1655.4 L577.3 1622.8 L580.0 1596.4 L582.8 1568.5 L586.4 1584.0 L590.0 1587.1 L595.0 1573.2 L600.0 1580.9 L605.5 1568.5 L610.0 1560.7 L616.4 1570.0 L622.8 1577.8 L627.3 1571.6 L632.5 1562.3 L638.2 1571.6 L643.7 1565.4 L650.1 1546.8 L655.1 1568.5 L658.7 1584.0 L661.9 1596.4 L664.6 1627.5 L667.3 1643.0 L670.1 1658.5 L672.8 1670.9 L675.5 1680.2 L678.7 1686.4 L680.1 1698.8 L681.4 1714.4 L682.5 1729.9 L684.6 1742.3 L686.0 1757.8 L687.4 1782.6 L691.0 1751.6 L696.4 1717.5 L700.1 1742.3 L705.5 1757.8 L709.2 1745.4 L712.8 1764.0 L714.6 1791.9 L718.3 1770.2 L722.8 1751.6 L727.4 1773.3 L731.9 1748.5 L736.5 1757.8 L741.0 1736.1 L744.7 1813.7 L748.3 1764.0 L751.9 1739.2 L754.7 1711.2 L758.3 1745.4 L761.9 1729.9 L765.6 1754.7 L769.2 1739.2 L772.8 1770.2 L777.4 1809.0 L780.1 1770.2 L782.8 1745.4 L786.2 1717.5 L789.2 1751.6 L792.9 1733.0 L796.5 1760.9 L800.1 1742.3 L804.7 1770.2 L809.2 1751.6 L813.8 1776.4 L818.3 1757.8 L822.9 1779.5 L827.4 1764.0 L832.5 1796.3 L836.5 1770.2 L841.1 1757.8 L846.3 1743.8 L851.1 1757.8 L857.4 1751.6 L862.5 1776.4 L865.6 1767.1 L868.8 1760.9 L872.5 1729.9 L876.3 1717.5 L880.2 1705.0 L883.8 1695.7 L888.4 1705.0 L892.5 1708.1 L897.4 1680.2 L902.5 1700.1 L903.8 1714.4 L907.5 1708.1 L910.2 1723.7 L914.7 1745.4 L917.5 1700.1 L918.9 1714.4 L922.0 1720.6 L925.0 1726.8 L931.1 1726.8 L933.8 1712.8 L938.4 1723.7 L943.8 1720.6 L948.8 1711.2 L952.5 1698.8 L958.7 1686.4 L962.0 1692.6 L966.2 1700.1 L970.0 1711.2 L975.7 1709.7 L980.0 1706.3 L983.8 1692.6 L987.5 1683.3 L991.1 1680.2 L994.8 1675.3 L997.5 1689.5 L1000.0 1700.1 L1002.5 1712.8 L1004.8 1705.0 L1008.8 1695.7 L1011.1 1683.3 L1013.9 1670.9 L1015.7 1684.9 L1019.3 1684.9 L1023.0 1689.5 L1026.2 1693.9 L1031.1 1683.3 L1036.2 1672.8 L1037.5 1686.4 L1040.0 1698.8 L1042.5 1712.8 L1043.9 1726.8 L1046.2 1742.3 L1047.5 1754.7 L1051.2 1733.0 L1054.8 1723.7 L1057.5 1737.6 L1058.8 1748.5 L1061.2 1757.8 L1064.8 1742.3 L1069.3 1726.8 L1073.7 1712.8 L1075.7 1726.8 L1078.4 1742.3 L1082.1 1748.5 L1084.8 1754.7 L1086.3 1770.2 L1090.3 1770.2 L1093.9 1768.7 L1100.3 1760.9 L1102.1 1776.4 L1105.7 1779.5 L1109.9 1783.9 L1114.8 1795.0 L1120.3 1788.8 L1126.3 1785.7 L1131.2 1791.9 L1133.9 1798.1 L1136.3 1810.6 L1139.4 1795.0 L1142.6 1783.9 L1145.7 1764.0 L1150.0 1742.3 L1150.3 1757.8 L1150.7 1771.5 L1156.3 1785.7 L1160.0 1798.1 L1166.3 1813.7 L1172.5 1827.6 L1177.6 1813.7 L1183.9 1801.2 L1191.2 1805.9 L1197.6 1810.6 L1200.0 1826.1 L1203.9 1816.8 L1207.6 1838.5 L1211.2 1854.0 L1214.0 1878.8 L1216.7 1850.9 L1219.4 1875.7 L1222.1 1860.2 L1224.9 1861.5 L1230.0 1847.8 L1240.0 1850.9 L1242.5 1836.3 L1246.2 1821.4 L1253.7 1827.6 L1261.2 1841.6 L1267.6 1854.9 L1272.5 1846.2 L1277.6 1841.6 L1282.2 1838.5 L1287.6 1852.5 L1291.3 1866.4 L1295.8 1872.6 L1300.0 1865.2 L1304.9 1875.7 L1309.5 1874.2 L1314.9 1872.6 L1316.3 1883.8 L1321.3 1869.5 L1322.5 1854.0 L1325.8 1847.8 L1330.0 1840.0 L1334.9 1840.0 L1337.6 1854.9 L1341.3 1857.1 L1344.9 1857.7 L1350.4 1869.5 L1354.9 1861.5 L1362.2 1869.5 L1371.3 1869.5 L1377.5 1875.7 L1382.2 1888.8 L1386.2 1903.7 L1391.3 1915.1 L1394.9 1901.2 L1400.0 1890.0 L1404.9 1904.9 L1409.5 1913.0 L1412.2 1917.6 L1413.7 1934.7 L1415.9 1922.3 L1420.0 1913.0 L1424.0 1903.7 L1427.5 1892.5 L1430.4 1900.6 L1433.8 1907.4 L1435.9 1922.3 L1437.7 1937.8 L1441.3 1928.5 L1446.2 1916.1 L1449.5 1920.7 L1452.2 1925.4 L1455.0 1913.9 L1459.5 1919.2 L1463.7 1925.4 L1467.7 1919.2 L1471.3 1915.1 L1475.9 1908.3 L1480.0 1902.4 L1483.7 1913.0 L1487.5 1925.4 L1492.3 1911.4 L1496.3 1897.5 L1502.3 1904.9 L1511.4 1909.9 L1522.3 1916.1 L1527.7 1909.9 L1532.3 1904.9 L1539.6 1907.4 L1546.3 1909.9 L1553.7 1922.3 L1559.6 1923.8 L1565.0 1925.4 L1570.0 1913.0 L1573.2 1922.3 L1582.3 1932.5 L1588.7 1930.0 L1595.0 1928.5 L1600.5 1925.4 L1605.9 1922.3 L1607.5 1895.0 L1615.0 1909.9 L1622.3 1895.0 L1627.8 1911.4 L1633.8 1902.4 L1635.1 1888.8 L1637.5 1873.9 L1640.0 1860.2 L1643.2 1866.4 L1646.9 1857.1 L1650.0 1852.5 L1653.2 1863.3 L1657.5 1866.4 L1659.6 1852.5 L1662.3 1840.0 L1664.5 1826.1 L1666.9 1850.9 L1669.6 1869.5 L1672.3 1854.0 L1676.0 1860.2 L1678.7 1850.9 L1682.3 1838.5 L1684.2 1866.4 L1686.9 1881.9 L1691.4 1896.2 L1695.1 1906.8 L1699.6 1883.8 L1704.7 1892.5 L1706.0 1906.8 L1708.5 1925.4 L1712.4 1916.1 L1716.9 1900.6 L1721.5 1922.3 L1726.0 1934.7 L1729.6 1916.1 L1733.3 1900.6 L1737.3 1888.1 L1740.6 1906.8 L1744.2 1922.3 L1748.7 1913.0 L1753.3 1900.6 L1757.8 1909.9 L1762.4 1922.3 L1767.8 1913.0 L1772.4 1897.5 L1776.0 1885.0 L1780.6 1894.3 L1784.8 1900.6 L1788.8 1913.0 L1793.3 1902.4 L1802.2 1896.2 L1808.5 1907.4 L1813.3 1920.1 L1820.6 1925.4 L1826.0 1922.3 L1829.7 1917.6 L1831.0 1903.7 L1834.8 1891.2 L1846.1 1891.2 L1849.7 1897.5 L1852.2 1911.4 L1854.0 1925.4 L1857.9 1933.1 L1861.0 1936.2 L1868.8 1940.9 L1877.9 1934.7 L1883.3 1925.4 L1889.7 1931.6 L1896.1 1920.1 L1899.7 1928.5 L1905.2 1939.3 L1914.3 1944.0 L2000.7 1944.0 L2006.1 1936.2 L2010.7 1930.0 L2015.2 1937.8 L2020.7 1944.0 L2128.0 1944.0"/>
</g>
<line x1="1274.8" y1="188.9" x2="1456.5" y2="188.9" stroke="#000" stroke-width="10.5" stroke-linecap="round"/>
<text class="lg" transform="translate(1482.0 217.5) scale(0.970 1)">15-ZGNR</text>
<line x1="1274.8" y1="289.7" x2="1456.5" y2="289.7" stroke="#f00" stroke-width="10.5" stroke-linecap="round" stroke-dasharray="29 41.8"/>
<text class="lg" transform="translate(1477.0 317.6) scale(0.978 1)">48</text>
<line x1="1269.5" y1="1108.9" x2="1451.5" y2="1108.9" stroke="#000" stroke-width="10.5" stroke-linecap="round"/>
<text class="lg" transform="translate(1473.0 1136.8) scale(0.982 1)">26-AGNR</text>
<line x1="1269.5" y1="1209.1" x2="1451.5" y2="1209.1" stroke="#f00" stroke-width="10.5" stroke-linecap="round" stroke-dasharray="29 42"/>
<text class="lg" transform="translate(1473.0 1237.6) scale(0.978 1)">585</text>
<line x1="1269.5" y1="1309.9" x2="1451.5" y2="1309.9" stroke="#00f" stroke-width="10.5" stroke-linecap="round" stroke-dasharray="21 18 0.01 18.3"/>
<text class="lg" transform="translate(1473.0 1337.8) scale(0.978 1)">d5d7</text>
<line x1="1269.5" y1="1410.8" x2="1451.5" y2="1410.8" stroke="#008080" stroke-width="10.5" stroke-linecap="round" stroke-dasharray="0.01 14.45"/>
<text class="lg" transform="translate(1474.0 1438.6) scale(0.978 1)">t5t7</text>
<text class="tk" text-anchor="end" transform="translate(280.5 105.5) scale(0.965 1)">30</text>
<text class="tk" text-anchor="end" transform="translate(280.5 260.7) scale(0.965 1)">25</text>
<text class="tk" text-anchor="end" transform="translate(280.5 415.8) scale(0.965 1)">20</text>
<text class="tk" text-anchor="end" transform="translate(280.5 571.0) scale(0.965 1)">15</text>
<text class="tk" text-anchor="end" transform="translate(280.5 726.2) scale(0.965 1)">10</text>
<text class="tk" text-anchor="end" transform="translate(280.5 881.3) scale(0.965 1)">5</text>
<text class="tk" text-anchor="end" transform="translate(280.5 1036.5) scale(0.965 1)">30</text>
<text class="tk" text-anchor="end" transform="translate(280.5 1191.7) scale(0.965 1)">25</text>
<text class="tk" text-anchor="end" transform="translate(280.5 1346.8) scale(0.965 1)">20</text>
<text class="tk" text-anchor="end" transform="translate(280.5 1502.0) scale(0.965 1)">15</text>
<text class="tk" text-anchor="end" transform="translate(280.5 1657.2) scale(0.965 1)">10</text>
<text class="tk" text-anchor="end" transform="translate(280.5 1812.3) scale(0.965 1)">5</text>
<text class="tk" text-anchor="end" transform="translate(280.5 1967.5) scale(0.965 1)">0</text>
<text class="tk" text-anchor="middle" transform="translate(309.0 2037.5) scale(0.965 1)">0</text>
<text class="tk" text-anchor="middle" transform="translate(763.8 2037.5) scale(0.965 1)">500</text>
<text class="tk" text-anchor="middle" transform="translate(1218.5 2037.5) scale(0.965 1)">1000</text>
<text class="tk" text-anchor="middle" transform="translate(1673.2 2037.5) scale(0.965 1)">1500</text>
<text class="tk" text-anchor="middle" transform="translate(2128.0 2037.5) scale(0.965 1)">2000</text>
<text class="yl" text-anchor="middle" transform="translate(133.6 546.0) rotate(-90)">Transmission</text>
<text class="yl" text-anchor="middle" transform="translate(133.6 1477.0) rotate(-90)">Transmission</text>
<text transform="translate(1030 2233.5) scale(0.93 1)" style="font-family:'Liberation Serif','DejaVu Serif',serif;font-size:128px;font-style:italic;font-weight:bold">ω</text>
<text x="1136" y="2233" style="font-family:'Liberation Serif',serif;font-size:106px;stroke:#000;stroke-width:1.2px">(</text>
<text x="1169.5" y="2233" style="font-size:111px;stroke:#000;stroke-width:1.3px">cm</text>
<text x="1319" y="2159" style="font-family:'DejaVu Sans','Liberation Sans',sans-serif;font-size:67.5px;stroke:#000;stroke-width:0.8px;letter-spacing:-2px">-1</text>
<text x="1378.5" y="2233" style="font-family:'Liberation Serif',serif;font-size:106px;stroke:#000;stroke-width:1.2px">)</text>
</svg></body></html>
